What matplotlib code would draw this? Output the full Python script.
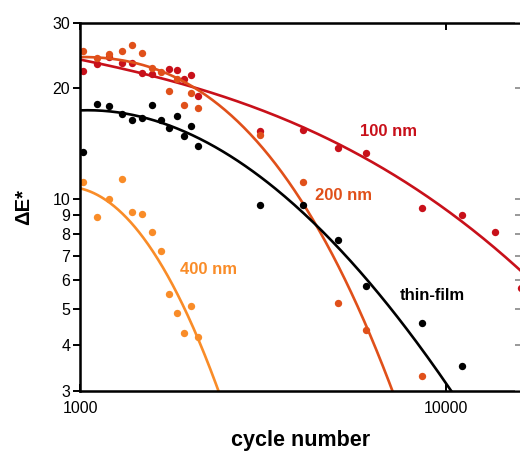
import numpy as np
import matplotlib
matplotlib.use("Agg")
import matplotlib.pyplot as plt
from matplotlib.ticker import FixedLocator, NullLocator

plt.rcParams["font.family"] = ["Liberation Sans", "DejaVu Sans"]

# cycle numbers of the early dense measurements
early_x = [1020, 1110, 1200, 1300, 1390, 1480, 1570, 1660, 1750, 1840, 1920, 2010, 2100]

# 100 nm
x_100 = [1020, 1110, 1200, 1300, 1390, 1480, 1570, 1750, 1840, 1920, 2010, 2100,
         3100, 4060, 5060, 6050, 8560, 11060, 13600, 16000]
y_100 = [22.2, 23.2, 24.3, 23.4, 23.4, 21.9, 21.8, 22.5, 22.3, 21.1, 21.7, 19.0,
         15.3, 15.4, 13.7, 13.3, 9.4, 9.0, 8.1, 5.7]
fit_100_x = [1000, 1550, 2570, 3100, 4060, 5070, 6050, 8560, 11060, 13580, 16000]
fit_100_y = [23.6, 22.1, 18.7, 17.4, 15.7, 13.8, 12.7, 10.2, 9.0, 7.6, 6.1]

# 200 nm
x_200 = early_x + [3100, 4060, 5060, 6050, 8560]
y_200 = [25.2, 24.1, 24.7, 25.2, 26.1, 24.9, 22.6, 22.1, 19.6, 21.1, 18.0, 19.3, 17.6,
         14.9, 11.1, 5.2, 4.4, 3.3]
fit_200_x = [1000, 1550, 2370, 3100, 4070, 5050, 6050, 7190]
fit_200_y = [24.4, 22.4, 18.0, 14.4, 9.85, 6.4, 4.42, 3.0]

# 400 nm
x_400 = early_x
y_400 = [11.1, 8.9, 10.0, 11.3, 9.2, 9.1, 8.1, 7.2, 5.5, 4.9, 4.3, 5.1, 4.2]
fit_400_x = [1000, 1195, 1385, 1600, 1877, 2100, 2389]
fit_400_y = [10.7, 9.7, 8.57, 7.2, 5.19, 4.2, 3.0]

# thin-film
x_tf = early_x + [3100, 4060, 5060, 6050, 8560, 11060]
y_tf = [13.4, 18.1, 17.9, 17.0, 16.4, 16.6, 18.0, 16.4, 15.6, 16.8, 14.8, 15.7, 13.9,
        9.6, 9.6, 7.7, 5.8, 4.6, 3.5]
fit_tf_x = [1000, 1550, 1920, 2570, 3100, 3750, 5050, 6050, 8560, 10490]
fit_tf_y = [17.5, 16.3, 15.0, 13.0, 11.7, 9.9, 7.7, 5.8, 3.8, 3.0]

series = [
    (x_100, y_100, fit_100_x, fit_100_y, "#c8101a", "100 nm", (5830, 15.2)),
    (x_200, y_200, fit_200_x, fit_200_y, "#e0501a", "200 nm", (4390, 10.2)),
    (x_400, y_400, fit_400_x, fit_400_y, "#f98c28", "400 nm", (1877, 6.4)),
    (x_tf, y_tf, fit_tf_x, fit_tf_y, "black", "thin-film", (7450, 5.44)),
]

fig = plt.figure(figsize=(5.2, 4.54), dpi=100)
ax = fig.add_axes([80 / 520, 63 / 454, 441 / 520, 368 / 454])
ax.set_xscale("log")
ax.set_yscale("log")
ax.set_xlim(1000, 16000)
ax.set_ylim(3, 30)

for x, y, fx, fy, c, name, pos in series:
    ax.plot(x, y, "o", color=c, ms=5.3, mec="none")
    # smooth trend line through the values
    lx = np.log10(fx)
    p = np.polyfit(lx, np.log10(fy), 3)
    xs = np.linspace(lx[0], lx[-1], 200)
    ax.plot(10 ** xs, 10 ** np.polyval(p, xs), color=c, lw=1.9)
    ax.text(pos[0], pos[1], name, color=c, fontsize=12, fontweight="bold", va="center")

yt = [3, 4, 5, 6, 7, 8, 9, 10, 20, 30]
ax.yaxis.set_major_locator(FixedLocator(yt))
ax.yaxis.set_minor_locator(NullLocator())
ax.set_yticklabels([str(v) for v in yt])
ax.xaxis.set_major_locator(FixedLocator([1000, 10000]))
ax.xaxis.set_minor_locator(NullLocator())
ax.set_xticklabels(["1000", "10000"])

ax.tick_params(axis="y", direction="out", length=5, width=1.4, labelsize=11.5, pad=2)
ax.tick_params(axis="x", direction="in", length=5, width=1.4, labelsize=11.5, top=True, pad=7)
for s in ax.spines.values():
    s.set_linewidth(1.8)

# right-hand ticks point inwards
ax2 = ax.twinx()
ax2.set_yscale("log")
ax2.set_ylim(3, 30)
ax2.yaxis.set_major_locator(FixedLocator(yt))
ax2.yaxis.set_minor_locator(NullLocator())
ax2.tick_params(axis="y", direction="in", length=4, width=1.2, colors="#888888", labelright=False)

ax.set_xlabel("cycle number", fontsize=15.5, fontweight="bold", labelpad=10)
ax.set_ylabel("ΔE*", fontsize=14.5, fontweight="bold", labelpad=14)

fig.savefig("out.png", dpi=100)
